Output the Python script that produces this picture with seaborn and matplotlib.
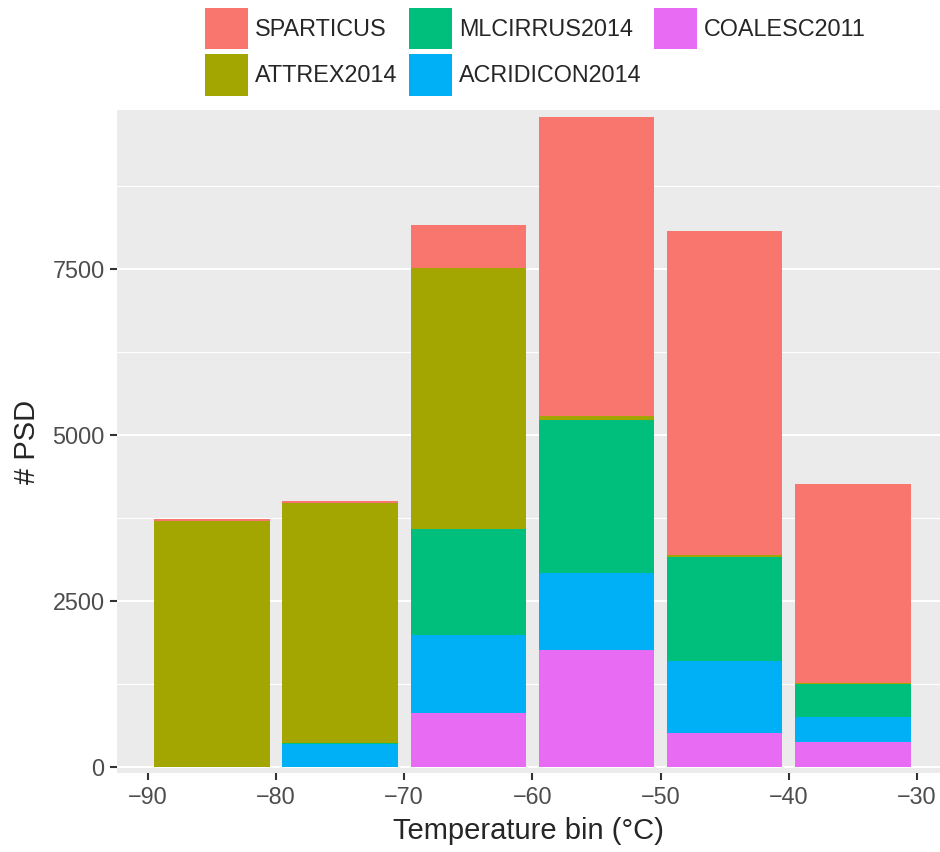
import seaborn as sns
import matplotlib.pyplot as plt
import matplotlib.patches as mpatches
import numpy as np
import pandas as pd

# bin centres (deg C) and counts per campaign
bins = [-85, -75, -65, -55, -45, -35]
campaigns = ['SPARTICUS', 'ATTREX2014', 'MLCIRRUS2014', 'ACRIDICON2014', 'COALESC2011']
sparticus = [30, 30, 648, 4498, 4879, 2985]
attrex = [3705, 3620, 3931, 65, 30, 15]
mlcirrus = [0, 15, 1596, 2304, 1567, 500]
acridicon = [0, 346, 1175, 1160, 1084, 374]
coalesc = [0, 0, 813, 1762, 512, 383]
colors = ['#F8766D', '#A3A500', '#00BF7D', '#00B0F6', '#E76BF3']

rows = []
for name, vals in zip(campaigns, [sparticus, attrex, mlcirrus, acridicon, coalesc]):
    for b, v in zip(bins, vals):
        rows.append({'temp': b, 'campaign': name, 'n': v})
df = pd.DataFrame(rows)

sns.set_style('darkgrid', {'axes.facecolor': '#EBEBEB', 'grid.color': 'white'})
plt.rcParams['font.family'] = ['Liberation Sans', 'DejaVu Sans']

fig = plt.figure(figsize=(9.4, 8.52), dpi=100)
ax = fig.add_axes([117/940, 79/852, 823/940, 663/852])

sns.histplot(data=df, x='temp', hue='campaign', weights='n', hue_order=campaigns,
             palette=colors, binwidth=10, binrange=(-90, -30), multiple='stack',
             shrink=0.9, alpha=1, linewidth=0, legend=False, ax=ax)

ax.set_xlim(-92.4, -28.2)
ax.set_ylim(-90, 9895)
ax.set_xticks(range(-90, -29, 10))
ax.set_xticklabels(['\u221290', '\u221280', '\u221270', '\u221260', '\u221250', '\u221240', '\u221230'])
ax.set_yticks([0, 2500, 5000, 7500])
ax.set_yticks([1250, 3750, 6250, 8750], minor=True)
ax.grid(False, axis='x')
ax.grid(True, axis='y', which='major', color='white', linewidth=1.5)
ax.grid(True, axis='y', which='minor', color='white', linewidth=0.8)
ax.set_axisbelow(True)
for s in ax.spines.values():
    s.set_visible(False)
ax.tick_params(axis='both', which='major', length=5, width=1.5, color='#333333',
               labelsize=16.8, labelcolor='#4D4D4D', pad=4)
ax.tick_params(axis='both', which='minor', length=0)
ax.tick_params(axis='x', bottom=True)
ax.tick_params(axis='y', left=True)

ax.set_xlabel('Temperature bin (\u00b0C)', fontsize=21, labelpad=6)
ax.set_ylabel('# PSD', fontsize=21, labelpad=8)

handles = [mpatches.Patch(facecolor=c, edgecolor='none', label=n) for n, c in zip(campaigns, colors)]
fig.legend(handles=handles, loc='upper left', bbox_to_anchor=(205/940, 1 - 8/852),
           ncol=3, frameon=False, fontsize=16.8, handlelength=1.85, handleheight=2.35,
           handletextpad=0.3, columnspacing=0.5, labelspacing=0.22, borderpad=0,
           borderaxespad=0)

fig.savefig('out.png', dpi=100)
